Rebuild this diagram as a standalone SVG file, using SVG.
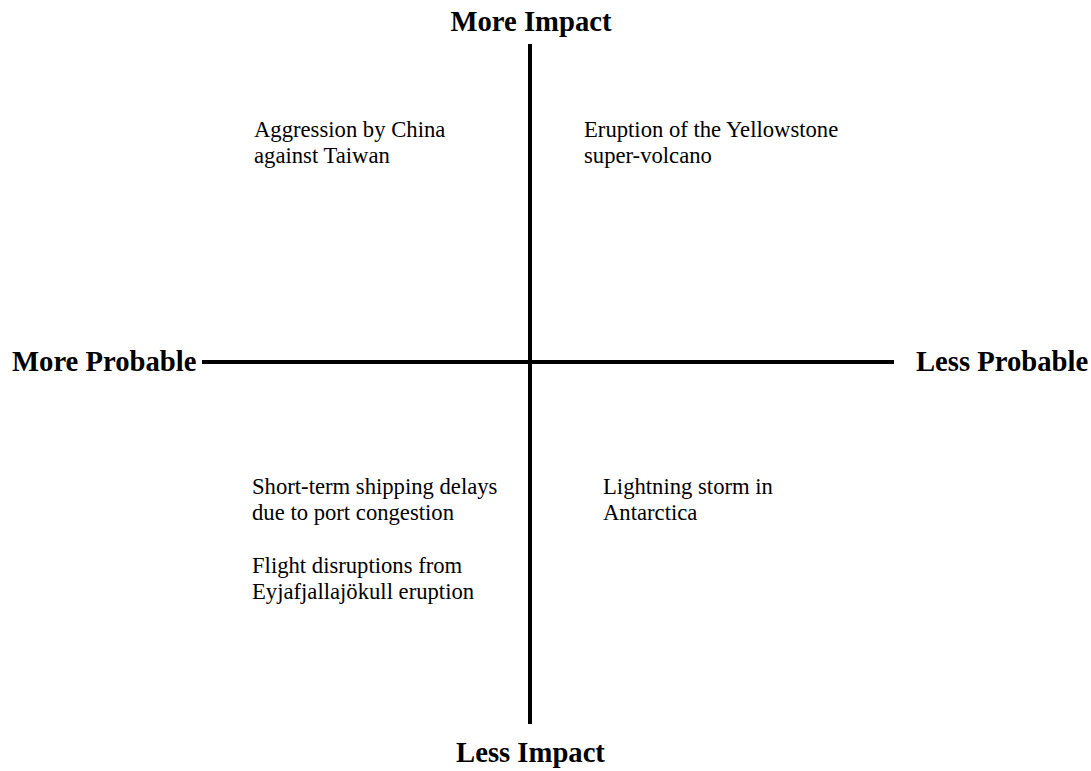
<svg xmlns="http://www.w3.org/2000/svg" width="1091" height="771" viewBox="0 0 1091 771">
<style>
.axis{stroke:#000;stroke-width:4;fill:none}
.head{font-family:"Liberation Serif","Times New Roman",serif;font-weight:bold;font-size:28.67px;fill:#000}
.body{font-family:"Liberation Serif","Times New Roman",serif;font-size:22.67px;fill:#000}
</style>
<rect width="1091" height="771" fill="#fff"/>
<g id="connectors">
<line class="axis" x1="530" y1="44" x2="530" y2="724"/>
<line class="axis" x1="202" y1="362" x2="894" y2="362"/>
</g>
<g id="more-impact"><text class="head" x="531" y="31" text-anchor="middle">More Impact</text></g>
<g id="less-impact"><text class="head" x="530.5" y="762" text-anchor="middle">Less Impact</text></g>
<g id="more-probable"><text class="head" x="12" y="371">More Probable</text></g>
<g id="less-probable"><text class="head" x="916" y="371">Less Probable</text></g>
<g id="china-taiwan"><text class="body" x="254" y="137"><tspan x="254">Aggression by China</tspan><tspan x="254" dy="26">against Taiwan</tspan></text></g>
<g id="yellowstone"><text class="body" x="584" y="137"><tspan x="584">Eruption of the Yellowstone</tspan><tspan x="584" dy="26">super-volcano</tspan></text></g>
<g id="shipping"><text class="body" x="252" y="494"><tspan x="252">Short-term shipping delays</tspan><tspan x="252" dy="26">due to port congestion</tspan></text></g>
<g id="flight"><text class="body" x="252" y="573"><tspan x="252">Flight disruptions from</tspan><tspan x="252" dy="26">Eyjafjallajökull eruption</tspan></text></g>
<g id="lightning"><text class="body" x="603" y="494"><tspan x="603">Lightning storm in</tspan><tspan x="603" dy="26">Antarctica</tspan></text></g>
</svg>
